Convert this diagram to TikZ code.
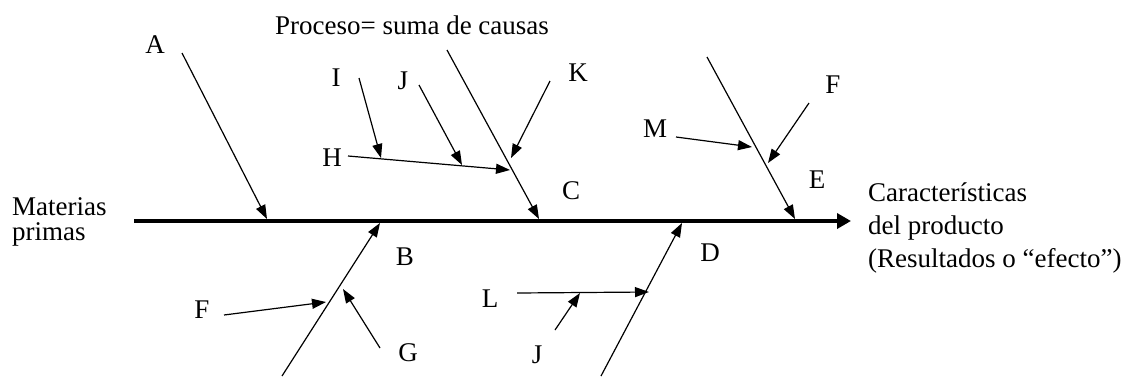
\documentclass[tikz,border=0pt]{standalone}
\usepackage{fontspec}
\setmainfont{Liberation Serif}
\usetikzlibrary{arrows.meta}
\begin{document}
\begin{tikzpicture}[x=1pt,y=-1pt,
  lbl/.style={font=\fontsize{27}{33}\selectfont, inner sep=0pt, anchor=base},
  bone/.style={line width=1.2pt, -{Triangle[length=14pt,width=10pt]}},
  spine/.style={line width=4pt, -{Triangle[length=14pt,width=15pt]}}]
\useasboundingbox (0,0) rectangle (1128,376);
% spine
\coordinate (s0) at (134,221);
\coordinate (s1) at (851,221);
\draw[spine] (s0) -- (s1);
% end texts
\node[lbl, anchor=base west, align=left, font=\fontsize{27}{24.5}\selectfont] (mat) at (12,240) {Materias\\primas};
\node[lbl, anchor=base west, align=left] (car) at (868,267) {Características\\del producto\\(Resultados o “efecto”)};
\node[lbl] (proc) at (412,34) {Proceso= suma de causas};
% labels
\node[lbl] (lA) at (155,53) {A};
\node[lbl] (lI) at (336,86) {I};
\node[lbl] (lH) at (332,166) {H};
\node[lbl] (lJ1) at (403,89) {J};
\node[lbl] (lK) at (578,81) {K};
\node[lbl] (lC) at (571,199) {C};
\node[lbl] (lM) at (655,137) {M};
\node[lbl] (lF1) at (833,93) {F};
\node[lbl] (lE) at (817,188) {E};
\node[lbl] (lB) at (405,265) {B};
\node[lbl] (lF2) at (202,318) {F};
\node[lbl] (lG) at (408,361) {G};
\node[lbl] (lD) at (710,261) {D};
\node[lbl] (lL) at (490,307) {L};
\node[lbl] (lJ2) at (537,363) {J};
% main bones
\coordinate (a0) at (182,53);  \coordinate (a1) at (267,219);
\coordinate (c0) at (447,50);  \coordinate (c1) at (539,219);
\coordinate (e0) at (707,57);  \coordinate (e1) at (795,219);
\coordinate (b0) at (282,376); \coordinate (b1) at (380,223);
\coordinate (d0) at (601,376); \coordinate (d1) at (682,223);
\draw[bone] (a0) -- (a1);
\draw[bone] (c0) -- (c1);
\draw[bone] (e0) -- (e1);
\draw[bone] (b0) -- (b1);
\draw[bone] (d0) -- (d1);
% sub causes, upper C
\coordinate (h0) at (348,156); \coordinate (h1) at (510,170);
\draw[bone] (h0) -- (h1);
\coordinate (i0) at (359,78);  \coordinate (i1) at (381,158);
\draw[bone] (i0) -- (i1);
\coordinate (j0) at (419,85);  \coordinate (j1) at (462,165);
\draw[bone] (j0) -- (j1);
\coordinate (k0) at (550,81);  \coordinate (k1) at (511,158);
\draw[bone] (k0) -- (k1);
% sub causes, upper E
\coordinate (m0) at (676,137); \coordinate (m1) at (752,147);
\draw[bone] (m0) -- (m1);
\coordinate (f0) at (809,103); \coordinate (f1) at (768,163);
\draw[bone] (f0) -- (f1);
% sub causes, lower B
\coordinate (fb0) at (224,315); \coordinate (fb1) at (326,302);
\draw[bone] (fb0) -- (fb1);
\coordinate (g0) at (380,348); \coordinate (g1) at (343,289);
\draw[bone] (g0) -- (g1);
% sub causes, lower D
\coordinate (l0) at (517,293); \coordinate (l1) at (649,292);
\draw[bone] (l0) -- (l1);
\coordinate (jl0) at (555,330); \coordinate (jl1) at (580,293);
\draw[bone] (jl0) -- (jl1);
\end{tikzpicture}
\end{document}
